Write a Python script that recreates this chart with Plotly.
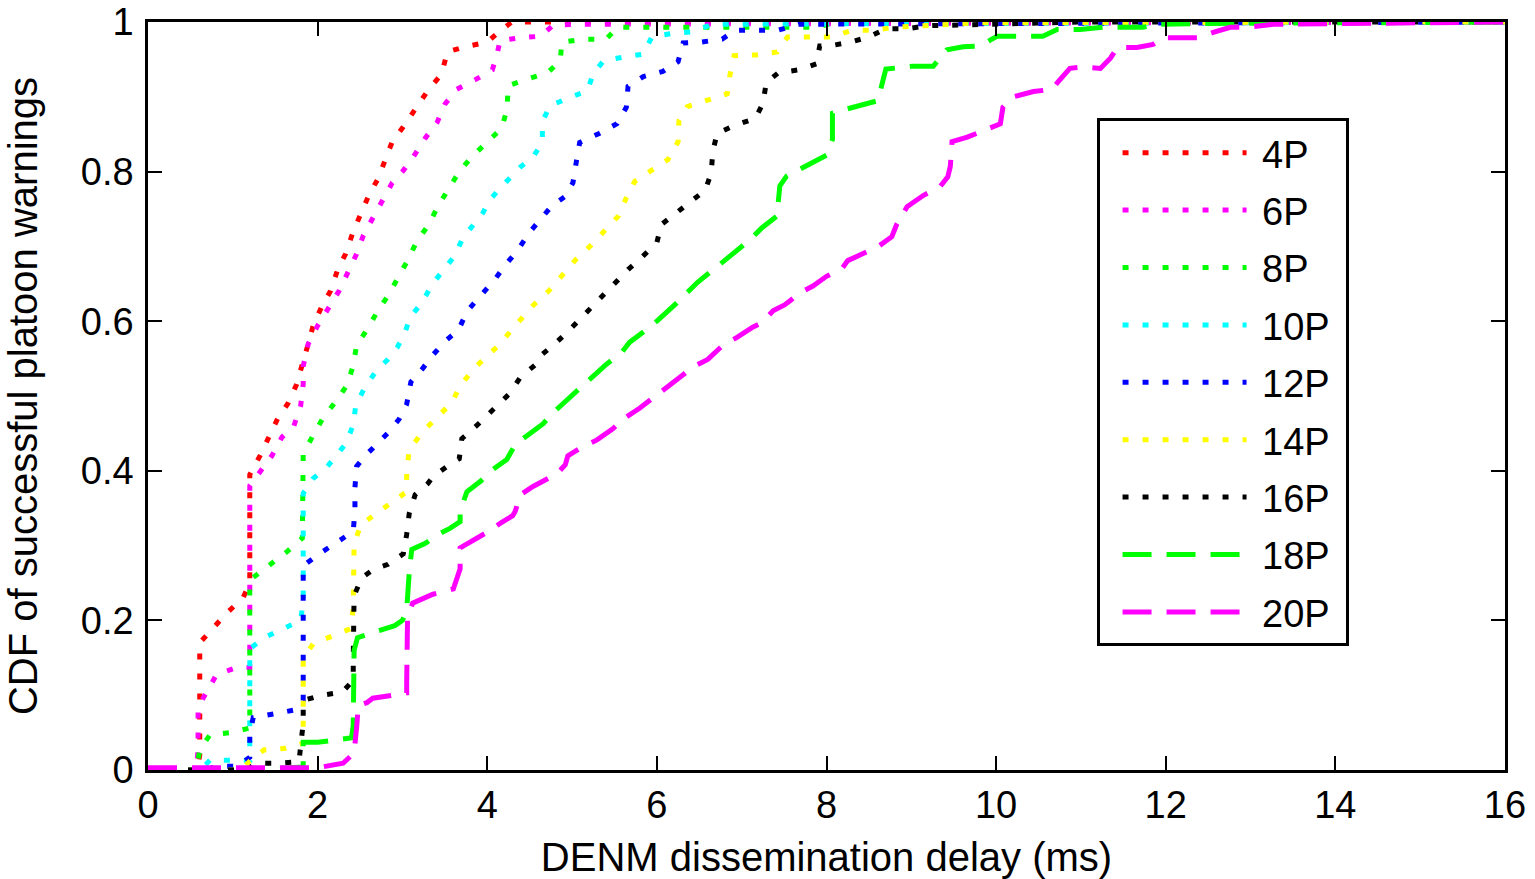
import plotly.graph_objects as go

# Empirical CDF curves of DENM dissemination delay, one per platoon size
labels = ["4P", "6P", "8P", "10P", "12P", "14P", "16P", "18P", "20P"]

x_4p = [0, 0.58, 0.61, 0.61, 0.93, 1.12, 1.20, 1.20, 1.32, 1.43, 1.53, 1.65, 1.75, 1.89, 1.95, 2.05,
        2.15, 2.24, 2.33, 2.42, 2.50, 2.61, 2.71, 2.79, 2.88, 3.01, 3.16, 3.31, 3.46, 3.53, 3.74,
        4.00, 4.15, 4.29, 16]
y_4p = [0, 0, 0.02, 0.17, 0.21, 0.23, 0.25, 0.395, 0.42, 0.445, 0.47, 0.49, 0.515, 0.57, 0.595, 0.62,
        0.64, 0.67, 0.69, 0.72, 0.74, 0.77, 0.79, 0.815, 0.84, 0.86, 0.885, 0.91, 0.93, 0.96, 0.967,
        0.973, 0.988, 1.0, 1.0]

x_6p = [0, 0.57, 0.59, 0.59, 0.81, 1.05, 1.20, 1.20, 1.33, 1.46, 1.58, 1.72, 1.80, 1.83, 1.83, 1.89,
        2.00, 2.12, 2.25, 2.36, 2.46, 2.54, 2.65, 2.77, 2.88, 3.00, 3.13, 3.27, 3.41, 3.50, 3.64,
        3.86, 4.06, 4.12, 4.15, 4.39, 4.63, 4.78, 5.06, 16]
y_6p = [0, 0, 0.027, 0.084, 0.128, 0.137, 0.137, 0.38, 0.40, 0.42, 0.445, 0.46, 0.487, 0.516, 0.54, 0.57,
        0.594, 0.617, 0.64, 0.666, 0.69, 0.715, 0.738, 0.762, 0.785, 0.80, 0.82, 0.845, 0.866, 0.89, 0.91,
        0.923, 0.936, 0.959, 0.975, 0.979, 0.981, 0.996, 0.997, 1.0]

x_8p = [0, 0.57, 0.61, 0.73, 0.97, 1.20, 1.20, 1.44, 1.63, 1.82, 1.83, 1.95, 2.06, 2.21, 2.35, 2.42,
        2.46, 2.59, 2.71, 2.84, 2.96, 3.07, 3.17, 3.31, 3.42, 3.55, 3.67, 3.82, 4.00, 4.17, 4.23,
        4.25, 4.48, 4.71, 4.86, 4.88, 5.13, 5.40, 5.54, 7.89, 8.08, 16]
y_8p = [0, 0, 0.027, 0.047, 0.05, 0.056, 0.254, 0.275, 0.291, 0.31, 0.423, 0.448, 0.47, 0.492, 0.515, 0.541,
        0.568, 0.59, 0.614, 0.636, 0.66, 0.683, 0.707, 0.729, 0.754, 0.777, 0.80, 0.82, 0.839, 0.858, 0.882,
        0.915, 0.924, 0.932, 0.948, 0.973, 0.977, 0.977, 0.993, 0.993, 0.999, 1.0]

x_10p = [0, 0.62, 0.73, 0.99, 1.20, 1.20, 1.20, 1.37, 1.59, 1.80, 1.83, 1.83, 1.95, 2.11, 2.21, 2.33,
         2.42, 2.45, 2.56, 2.70, 2.82, 2.94, 3.03, 3.09, 3.23, 3.35, 3.48, 3.62, 3.71, 3.83, 3.95,
         4.01, 4.15, 4.28, 4.39, 4.54, 4.65, 4.65, 4.74, 4.95, 5.18, 5.25, 5.37, 5.60, 5.84, 5.94,
         6.19, 6.43, 6.65, 16]
y_10p = [0, 0, 0.013, 0.013, 0.013, 0.104, 0.162, 0.177, 0.189, 0.20, 0.226, 0.37, 0.39, 0.405, 0.419, 0.436,
         0.461, 0.488, 0.512, 0.535, 0.548, 0.565, 0.585, 0.605, 0.625, 0.649, 0.668, 0.688, 0.711, 0.729, 0.745,
         0.759, 0.778, 0.793, 0.806, 0.819, 0.84, 0.867, 0.888, 0.898, 0.908, 0.931, 0.948, 0.953, 0.957, 0.98,
         0.985, 0.987, 0.997, 1.0]

x_12p = [0, 0.70, 0.79, 1.05, 1.20, 1.20, 1.24, 1.49, 1.72, 1.83, 1.83, 2.02, 2.23, 2.42, 2.44, 2.44,
         2.46, 2.56, 2.71, 2.84, 2.96, 3.05, 3.10, 3.24, 3.36, 3.51, 3.66, 3.76, 3.92, 4.09, 4.22,
         4.36, 4.50, 4.62, 4.76, 4.92, 5.01, 5.05, 5.09, 5.32, 5.53, 5.64, 5.66, 5.84, 6.07, 6.25,
         6.31, 6.51, 6.77, 6.92, 7.43, 7.67, 16]
y_12p = [0, 0, 0.005, 0.005, 0.017, 0.047, 0.07, 0.076, 0.08, 0.093, 0.273, 0.289, 0.305, 0.319, 0.348, 0.378,
         0.406, 0.42, 0.437, 0.452, 0.469, 0.489, 0.519, 0.537, 0.555, 0.574, 0.588, 0.613, 0.634, 0.656, 0.676,
         0.695, 0.719, 0.734, 0.754, 0.767, 0.785, 0.813, 0.839, 0.851, 0.864, 0.886, 0.914, 0.927, 0.934, 0.947,
         0.972, 0.973, 0.977, 0.989, 0.989, 0.997, 1.0]

x_14p = [0, 1.10, 1.20, 1.37, 1.62, 1.83, 1.83, 1.83, 1.95, 2.18, 2.39, 2.42, 2.42, 2.43, 2.51, 2.70,
         2.84, 3.05, 3.05, 3.08, 3.23, 3.41, 3.58, 3.68, 3.83, 4.01, 4.14, 4.30, 4.54, 4.73, 4.88,
         5.04, 5.21, 5.38, 5.55, 5.64, 5.74, 5.94, 6.13, 6.25, 6.26, 6.36, 6.59, 6.83, 6.86, 6.91,
         7.17, 7.42, 7.54, 8.07, 8.30, 8.55, 8.81, 9.14, 9.81, 16]
y_14p = [0, 0, 0.012, 0.027, 0.029, 0.036, 0.122, 0.15, 0.169, 0.18, 0.189, 0.217, 0.274, 0.302, 0.328, 0.343,
         0.356, 0.372, 0.399, 0.428, 0.451, 0.471, 0.491, 0.513, 0.535, 0.555, 0.568, 0.59, 0.621, 0.641, 0.66,
         0.682, 0.70, 0.721, 0.741, 0.765, 0.787, 0.802, 0.816, 0.84, 0.868, 0.887, 0.895, 0.904, 0.928, 0.955,
         0.956, 0.96, 0.98, 0.98, 0.989, 0.989, 0.993, 0.995, 0.999, 1.0]

x_16p = [0, 1.18, 1.26, 1.52, 1.78, 1.83, 1.83, 2.05, 2.29, 2.42, 2.42, 2.42, 2.43, 2.52, 2.67, 2.83,
         3.01, 3.05, 3.08, 3.15, 3.30, 3.36, 3.55, 3.67, 3.70, 3.88, 4.06, 4.12, 4.27, 4.39, 4.56,
         4.65, 4.78, 4.95, 5.12, 5.28, 5.41, 5.54, 5.66, 5.79, 5.92, 6.00, 6.05, 6.24, 6.43, 6.57,
         6.64, 6.66, 6.71, 6.92, 7.16, 7.25, 7.29, 7.43, 7.67, 7.88, 7.92, 8.03, 8.28, 8.50, 8.70,
         8.95, 9.19, 9.96, 11.0, 16]
y_16p = [0, 0, 0.009, 0.009, 0.011, 0.063, 0.093, 0.10, 0.104, 0.12, 0.149, 0.203, 0.233, 0.257, 0.269, 0.275,
         0.289, 0.315, 0.343, 0.368, 0.383, 0.392, 0.408, 0.416, 0.443, 0.461, 0.48, 0.488, 0.504, 0.525, 0.541,
         0.556, 0.568, 0.586, 0.606, 0.625, 0.64, 0.656, 0.669, 0.682, 0.695, 0.705, 0.729, 0.746, 0.762, 0.775,
         0.798, 0.827, 0.851, 0.862, 0.871, 0.891, 0.919, 0.932, 0.936, 0.944, 0.968, 0.968, 0.973, 0.98, 0.991,
         0.991, 0.995, 0.997, 1.0, 1.0]

x_18p = [0, 1.20, 1.83, 1.83, 2.00, 2.40, 2.42, 2.42, 2.43, 2.47, 2.65, 2.91, 3.00, 3.05, 3.08, 3.11,
         3.27, 3.42, 3.56, 3.68, 3.68, 3.76, 3.92, 4.07, 4.23, 4.33, 4.48, 4.66, 4.76, 4.94, 5.12,
         5.25, 5.39, 5.59, 5.68, 5.88, 6.01, 6.24, 6.48, 6.84, 7.10, 7.24, 7.42, 7.43, 7.45, 7.53,
         7.78, 8.00, 8.07, 8.07, 8.25, 8.49, 8.61, 8.65, 8.70, 9.02, 9.26, 9.42, 9.61, 9.81, 9.93,
         10.01, 10.55, 10.72, 10.99, 11.26, 11.73, 11.93, 12.50, 14.70, 16]
y_18p = [0, 0, 0.004, 0.037, 0.037, 0.043, 0.06, 0.117, 0.16, 0.177, 0.184, 0.193, 0.20, 0.213, 0.264, 0.295,
         0.303, 0.315, 0.323, 0.332, 0.346, 0.372, 0.386, 0.402, 0.415, 0.435, 0.448, 0.463, 0.476, 0.495, 0.512,
         0.528, 0.541, 0.559, 0.572, 0.589, 0.601, 0.625, 0.652, 0.685, 0.709, 0.725, 0.741, 0.758, 0.781, 0.794,
         0.809, 0.822, 0.843, 0.878, 0.884, 0.891, 0.895, 0.915, 0.937, 0.941, 0.941, 0.963, 0.967, 0.968, 0.975,
         0.981, 0.981, 0.99, 0.99, 0.993, 0.993, 0.997, 0.998, 1.0, 1.0]

x_20p = [0, 2.00, 2.30, 2.43, 2.46, 2.48, 2.58, 2.65, 2.89, 3.05, 3.05, 3.05, 3.06, 3.12, 3.36, 3.60,
         3.68, 3.68, 3.82, 3.97, 4.17, 4.30, 4.33, 4.39, 4.54, 4.67, 4.82, 4.92, 4.95, 5.09, 5.29,
         5.48, 5.60, 5.80, 5.95, 6.18, 6.31, 6.43, 6.60, 6.78, 6.94, 7.13, 7.24, 7.37, 7.51, 7.69,
         7.84, 8.00, 8.18, 8.25, 8.48, 8.60, 8.77, 8.83, 8.95, 9.14, 9.34, 9.43, 9.46, 9.48, 9.66,
         9.85, 10.05, 10.08, 10.20, 10.44, 10.66, 10.73, 10.87, 11.03, 11.23, 11.35, 11.43, 11.66, 11.85,
         11.97, 12.37, 12.56, 12.76, 12.96, 13.27, 16]
y_20p = [0.003, 0.003, 0.009, 0.023, 0.057, 0.086, 0.09, 0.096, 0.10, 0.103, 0.117, 0.176, 0.203, 0.223, 0.235, 0.242,
         0.269, 0.297, 0.306, 0.316, 0.331, 0.34, 0.346, 0.368, 0.379, 0.387, 0.396, 0.408, 0.42, 0.43, 0.441,
         0.456, 0.469, 0.484, 0.497, 0.516, 0.529, 0.539, 0.549, 0.568, 0.578, 0.592, 0.598, 0.614, 0.622, 0.638,
         0.647, 0.66, 0.67, 0.681, 0.693, 0.699, 0.713, 0.73, 0.753, 0.768, 0.78, 0.793, 0.807, 0.84, 0.846,
         0.854, 0.864, 0.886, 0.90, 0.907, 0.91, 0.92, 0.938, 0.94, 0.938, 0.952, 0.966, 0.966, 0.97,
         0.979, 0.979, 0.986, 0.993, 0.993, 0.997, 1.0]

xs = [x_4p, x_6p, x_8p, x_10p, x_12p, x_14p, x_16p, x_18p, x_20p]
ys = [y_4p, y_6p, y_8p, y_10p, y_12p, y_14p, y_16p, y_18p, y_20p]
colors = ["#FF0000", "#FF00FF", "#00FF00", "#00FFFF", "#0000FF",
          "#FFFF00", "#000000", "#00FF00", "#FF00FF"]
dashes = ["dot"] * 7 + ["dash"] * 2

FONT = "Liberation Sans, Arial, sans-serif"
DOT = "6px,14px"
DASH = "29px,15px"
PAD = "\u00a0"

fig = go.Figure()
for i, name in enumerate(labels):
    fig.add_trace(go.Scatter(
        x=xs[i], y=ys[i], mode="lines",
        name=PAD + name + "\u00a0",
        legendgroup=name,
        line=dict(color=colors[i], width=5,
                  dash=DOT if dashes[i] == "dot" else DASH),
    ))

axis_common = dict(
    showline=True, linecolor="black", linewidth=2.5, mirror="ticks",
    ticks="inside", ticklen=14, tickwidth=2, tickcolor="black",
    showgrid=False, zeroline=False, automargin=False,
    ticklabeloverflow="allow",
    tickfont=dict(family=FONT, size=38, color="black"),
)

fig.update_layout(
    width=1535, height=879,
    margin=dict(l=148, r=30, t=22, b=109),
    paper_bgcolor="white", plot_bgcolor="white",
    font=dict(family=FONT, size=38, color="black"),
    xaxis=dict(range=[0, 16], dtick=2, tick0=0,
               title=dict(text="DENM dissemination delay (ms)", font=dict(size=40), standoff=20),
               **axis_common),
    yaxis=dict(range=[0, 1], dtick=0.2, tick0=0, ticklabelstandoff=4,
               title=dict(text="CDF of successful platoon warnings", font=dict(size=40), standoff=31),
               **axis_common),
    legend=dict(
        x=0.699, y=0.871, xanchor="left", yanchor="top",
        bgcolor="white", bordercolor="black", borderwidth=3,
        font=dict(family=FONT, size=38, color="black"),
        itemwidth=124, tracegroupgap=5, indentation=18,
    ),
    showlegend=True,
)

fig.write_html("out.html")
